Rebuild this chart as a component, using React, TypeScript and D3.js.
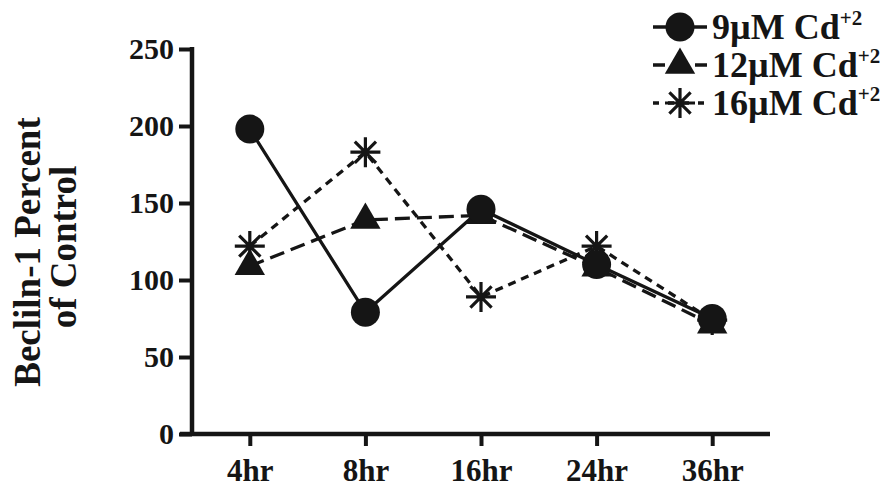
import { useEffect, useRef } from 'react';
import * as d3 from 'd3';

const categories = ['4hr', '8hr', '16hr', '24hr', '36hr'];
const yTicks = [0, 50, 100, 150, 200, 250];
const seriesNames = ['9µM Cd', '12µM Cd', '16µM Cd'];
const cd9 = [198, 79, 146, 110, 75];
const cd12 = [109, 139, 142, 108, 71];
const cd16 = [122, 183, 89, 122, 74];

const WIDTH = 887;
const HEIGHT = 494;
const FONT = '"Liberation Serif", "Times New Roman", serif';
const INK = '#151515';

type Marker = 'circle' | 'triangle' | 'star';

const starPath = (r: number) => {
  const d = r * Math.SQRT1_2;
  return `M${-r},0L${r},0M0,${-r}L0,${r}M${-d},${-d}L${d},${d}M${-d},${d}L${d},${-d}`;
};

const drawMarker = (
  g: d3.Selection<SVGGElement, unknown, null, undefined>,
  kind: Marker,
  x: number,
  y: number
) => {
  if (kind === 'circle') {
    g.append('circle').attr('cx', x).attr('cy', y).attr('r', 14.5).attr('fill', INK);
  } else if (kind === 'triangle') {
    g.append('path')
      .attr('transform', `translate(${x},${y})`)
      .attr('d', d3.symbol().type(d3.symbolTriangle).size(400)()!)
      .attr('fill', INK);
  } else {
    g.append('path')
      .attr('transform', `translate(${x},${y})`)
      .attr('d', starPath(15))
      .attr('fill', 'none')
      .attr('stroke', INK)
      .attr('stroke-width', 3.2);
  }
};

export default function App() {
  const svgRef = useRef<SVGSVGElement>(null);

  useEffect(() => {
    if (!svgRef.current) return;
    document.body.style.margin = '0';
    const svg = d3.select(svgRef.current);
    svg.selectAll('*').remove();

    const xScale = d3.scalePoint<string>().domain(categories).range([192, 770]).padding(0.5);
    const yScale = d3.scaleLinear().domain([0, 250]).range([434, 49]);

    const series: { name: string; values: number[]; marker: Marker; dash: string | null }[] = [
      { name: seriesNames[0], values: cd9, marker: 'circle', dash: null },
      { name: seriesNames[1], values: cd12, marker: 'triangle', dash: '15,7' },
      { name: seriesNames[2], values: cd16, marker: 'star', dash: '8,6' },
    ];

    // axes
    const yAxis = d3
      .axisLeft(yScale)
      .tickValues(yTicks)
      .tickSizeInner(13)
      .tickSizeOuter(0)
      .tickPadding(5);
    const gy = svg.append('g').attr('transform', `translate(${192},0)`).call(yAxis);
    gy.select('.domain').remove();
    gy.selectAll('line').attr('stroke', INK).attr('stroke-width', 4);
    gy.selectAll('text')
      .attr('fill', INK)
      .attr('font-family', FONT)
      .attr('font-weight', 'bold')
      .attr('font-size', 30);

    const xAxis = d3.axisBottom(xScale).tickSizeInner(12).tickSizeOuter(0).tickPadding(13);
    const gx = svg.append('g').attr('transform', `translate(0,${434})`).call(xAxis);
    gx.select('.domain').remove();
    gx.selectAll('line').attr('stroke', INK).attr('stroke-width', 4);
    gx.selectAll('text')
      .attr('fill', INK)
      .attr('font-family', FONT)
      .attr('font-weight', 'bold')
      .attr('font-size', 31);

    svg.append('line')
      .attr('x1', 192).attr('x2', 192).attr('y1', 47).attr('y2', 436)
      .attr('stroke', INK).attr('stroke-width', 4.5);
    svg.append('line')
      .attr('x1', 180).attr('x2', 770).attr('y1', 434).attr('y2', 434)
      .attr('stroke', INK).attr('stroke-width', 4.5);

    // axis title
    const title = svg.append('g')
      .attr('font-family', FONT)
      .attr('font-weight', 'bold')
      .attr('font-size', 37)
      .attr('fill', INK)
      .attr('text-anchor', 'middle');
    title.append('text').attr('transform', 'translate(40,252) rotate(-90)').text('Becliln-1 Percent');
    title.append('text').attr('transform', 'translate(76,247) rotate(-90)').text('of Control');

    // lines + markers
    const plot = svg.append('g');
    series.forEach((s) => {
      const line = d3
        .line<number>()
        .x((_, i) => xScale(categories[i])!)
        .y((d) => yScale(d));
      plot.append('path')
        .attr('d', line(s.values))
        .attr('fill', 'none')
        .attr('stroke', INK)
        .attr('stroke-width', 3.3)
        .attr('stroke-dasharray', s.dash);
    });
    [...series].reverse().forEach((s) => {
      s.values.forEach((v, i) => drawMarker(plot, s.marker, xScale(categories[i])!, yScale(v)));
    });

    // legend
    const legendY = [27, 65, 103];
    series.forEach((s, i) => {
      const g = svg.append('g');
      const y = legendY[i];
      g.append('line')
        .attr('x1', 653).attr('x2', 707).attr('y1', y).attr('y2', y)
        .attr('stroke', INK).attr('stroke-width', 3.5)
        .attr('stroke-dasharray', i === 0 ? null : i === 1 ? '12,30' : '6,9');
      drawMarker(g, s.marker, 680, y);
      const t = g.append('text')
        .attr('x', 712).attr('y', y + 12)
        .attr('font-family', FONT).attr('font-weight', 'bold')
        .attr('font-size', 36).attr('fill', INK);
      t.append('tspan').text(s.name);
      t.append('tspan').attr('dy', -14).attr('font-size', 21).text('+2');
    });
  }, []);

  return (
    <svg
      ref={svgRef}
      width={WIDTH}
      height={HEIGHT}
      style={{ display: 'block', background: '#fff' }}
    />
  );
}
